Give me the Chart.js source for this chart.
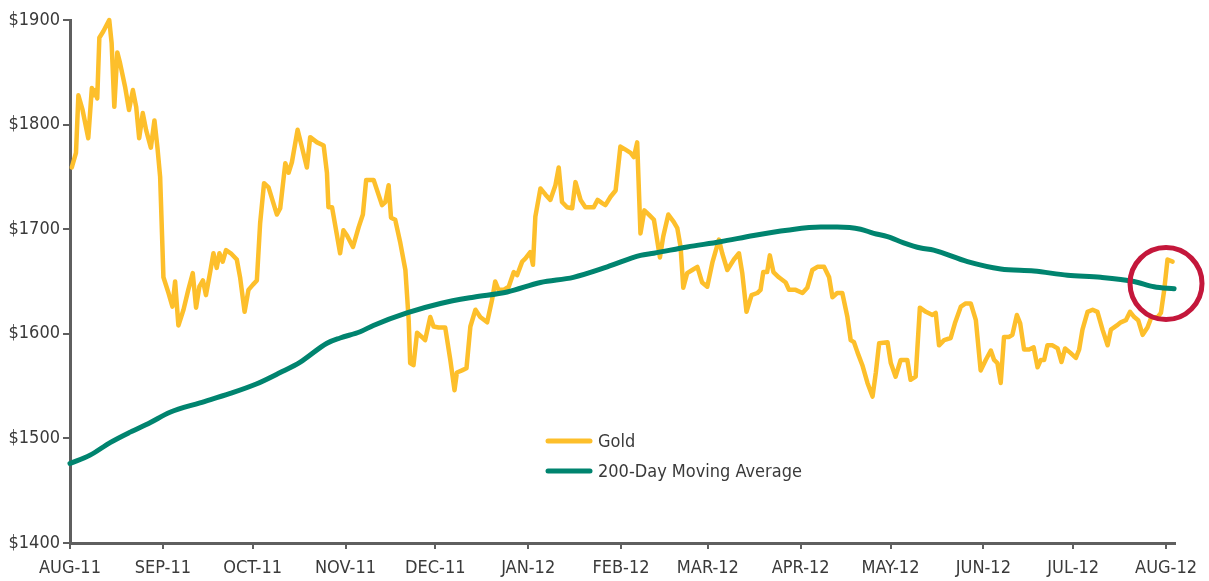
<!DOCTYPE html>
<html>
<head>
<meta charset="utf-8">
<script src="https://cdn.jsdelivr.net/npm/chart.js@4.4.1/dist/chart.umd.min.js"></script>
<style>
  html, body { margin: 0; padding: 0; background: #ffffff; }
  #wrap { width: 1209px; height: 581px; }
</style>
</head>
<body>
<div id="wrap"><canvas id="c" width="1209" height="581"></canvas></div>
<script>
// Month ticks (days since 1 Aug 2011) and labels
const monthDays = [0, 31, 61, 92, 122, 153, 184, 213, 244, 274, 305, 335, 366];
const monthLabels = ['AUG-11','SEP-11','OCT-11','NOV-11','DEC-11','JAN-12','FEB-12','MAR-12','APR-12','MAY-12','JUN-12','JUL-12','AUG-12'];
const yTicks = [1400, 1500, 1600, 1700, 1800, 1900];

// Gold price (days since 1 Aug 2011, USD)
const goldDays = [0.6,2,2.8,4.2,6.1,7.3,7.8,8.4,9.1,9.8,11.1,13.1,13.9,14.8,15.8,16.7,18.4,19.7,21,22.1,23.1,24.3,25.4,27,28.2,29.2,30.1,31.2,32.9,34.2,35.1,36.2,37.9,39.5,41,42.1,43.2,44.4,45.4,46.8,47.9,49,49.9,51,52.1,53.7,55.7,56.8,58.3,59.6,61.1,62.4,63.5,64.8,66.3,69.1,70.2,71.9,73,74.1,76,77.4,79.1,80.2,82.5,84.7,85.8,86.3,87.5,90.2,91.3,92.5,94.5,96.4,97.8,98.9,101.4,104.2,105.3,106.4,107.2,108.6,110.3,112,113.1,113.6,114.7,115.9,117.5,118.6,120.3,121.4,123.1,125.3,127,128.4,129.2,130.9,132.4,133.7,135.4,137,139.3,140.9,142,143.1,144.8,146.5,148.2,149.3,151,152.1,153.7,154.6,155.4,157.1,158.8,160.4,162.1,163.2,164.3,166,167.7,168.8,170.5,172.1,174.9,176.2,177.7,178.8,180.5,182.2,183.8,185.5,187.2,188.3,189.4,190.5,191.8,193.3,195,197,198.1,199.8,201.6,202.8,203.9,204.8,206.1,207.8,209.5,211.1,212.8,214.5,216.7,217.8,219.5,221.7,223.4,224.5,225.9,227.6,229.5,230.6,231.5,232.8,233.7,234.9,236.7,239,240.1,242.3,244.6,246.2,247.9,249.6,251.8,253.5,254.6,256.2,257.9,259.6,260.7,261.8,263,264.6,266.3,268,269.1,270.2,273,274.1,275.7,277.4,279.6,280.7,282.4,283.8,285.8,288,289.1,290.2,291.9,294.1,295.5,297.5,299.1,300.8,302.5,304.1,305.8,307.5,308.6,309.7,310.8,311.9,313.6,314.7,316.2,317.3,318.6,320.3,321.8,323.1,324.2,325.3,326.4,328.1,329.8,331.1,332.3,334,335.9,337,338.1,339.8,341.5,343.1,344.8,346.5,347.6,349.6,350.9,352.6,354,355.4,356.7,358.2,359.8,361,363.2,364.3,365.4,366.5,368.2];
const goldPrice = [1759,1773,1828,1814,1787,1835,1828,1833,1825,1883,1889,1900,1878,1817,1869,1859,1836,1814,1833,1817,1787,1811,1795,1778,1804,1778,1750,1654,1639,1626,1650,1608,1623,1642,1658,1625,1645,1651,1637,1659,1677,1663,1677,1669,1680,1677,1671,1654,1621,1642,1647,1651,1706,1744,1740,1714,1720,1763,1754,1764,1795,1779,1759,1788,1783,1780,1754,1721,1721,1677,1699,1694,1683,1702,1714,1747,1747,1723,1726,1742,1711,1709,1687,1661,1613,1572,1570,1601,1597,1594,1616,1607,1606,1606,1575,1546,1563,1565,1567,1607,1623,1616,1611,1632,1650,1642,1642,1645,1659,1656,1669,1672,1678,1666,1712,1739,1733,1728,1742,1759,1726,1721,1720,1745,1728,1721,1721,1728,1725,1723,1731,1737,1779,1776,1773,1769,1783,1696,1718,1714,1709,1673,1693,1714,1707,1701,1683,1644,1658,1661,1664,1649,1645,1668,1690,1677,1661,1671,1677,1658,1621,1637,1639,1642,1659,1659,1675,1659,1654,1649,1642,1642,1639,1644,1661,1664,1664,1654,1635,1639,1639,1616,1594,1592,1582,1570,1553,1540,1563,1591,1592,1572,1559,1575,1575,1556,1559,1625,1621,1618,1620,1589,1594,1596,1610,1626,1629,1629,1613,1565,1575,1584,1575,1572,1553,1597,1597,1599,1618,1610,1585,1585,1587,1568,1575,1575,1589,1589,1586,1573,1586,1582,1577,1585,1604,1621,1623,1621,1604,1589,1604,1608,1611,1613,1621,1616,1613,1599,1606,1615,1616,1620,1642,1671,1669];

// 200-day moving average
const maDays = [0,6.7,13.4,20.1,26.7,33.4,43.4,53.5,62.2,70.2,76.9,85.8,90.2,96.9,101.3,112.5,123.7,134.7,146,157.1,168.1,179.4,190.5,194.9,206.1,217.2,228.3,239.5,250.7,256.2,264,268.4,273,278.4,284.1,288.4,299.7,310.8,321.9,333.1,344.2,355.3,362,368.7];
const maPrice = [1476,1484,1496,1506,1515,1525,1534,1543,1552,1563,1573,1591,1596,1602,1608,1620,1629,1635,1640,1649,1654,1664,1675,1677,1683,1688,1694,1699,1702,1702,1700,1696,1693,1687,1682,1680,1669,1662,1660,1656,1654,1650,1645,1643];

// Highlight circle (crossover)
const circleDay = [366];
const circleValue = [1648];

const seriesLabels = ['Gold', '200-Day Moving Average'];
const GOLD = '#FDBF2B';
const TEAL = '#00846F';
const AXIS = '#5f5f5f';
const TEXT = '#3a3a3a';
const FONT = '"Liberation Sans Narrow", "Arial Narrow", "DejaVu Sans Condensed", Roboto, sans-serif';

const zip = (xs, ys) => xs.map((x, i) => ({ x: x, y: ys[i] }));

const legendPlugin = {
  id: 'customLegend',
  afterDraw(chart) {
    const ctx = chart.ctx;
    const items = chart.data.datasets.slice(0, 2);
    const x0 = 548, x1 = 590, tx = 598;
    const ys = [441, 471];
    ctx.save();
    items.forEach((ds, i) => {
      ctx.beginPath();
      ctx.lineCap = 'round';
      ctx.lineWidth = 5;
      ctx.strokeStyle = ds.borderColor;
      ctx.moveTo(x0, ys[i]);
      ctx.lineTo(x1, ys[i]);
      ctx.stroke();
      ctx.fillStyle = TEXT;
      ctx.font = '18px ' + FONT;
      ctx.textBaseline = 'middle';
      ctx.textAlign = 'left';
      ctx.fillText(ds.label, tx, ys[i] + 1);
    });
    ctx.restore();
  }
};

new Chart(document.getElementById('c'), {
  type: 'line',
  data: {
    datasets: [
      {
        label: seriesLabels[0],
        data: zip(goldDays, goldPrice),
        borderColor: GOLD,
        borderWidth: 4.5,
        pointRadius: 0,
        tension: 0,
        borderJoinStyle: 'round',
        borderCapStyle: 'round',
        clip: false,
        order: 2
      },
      {
        label: seriesLabels[1],
        data: zip(maDays, maPrice),
        borderColor: TEAL,
        borderWidth: 5,
        pointRadius: 0,
        cubicInterpolationMode: 'monotone',
        borderCapStyle: 'round',
        clip: false,
        order: 1
      },
      {
        label: 'highlight',
        data: zip(circleDay, circleValue),
        showLine: false,
        pointStyle: 'circle',
        pointRadius: 36,
        pointHoverRadius: 36,
        pointBorderWidth: 5,
        pointBorderColor: '#C4173B',
        pointBackgroundColor: 'rgba(0,0,0,0)',
        borderColor: '#C4173B',
        clip: false,
        order: 0
      }
    ]
  },
  options: {
    responsive: false,
    animation: false,
    devicePixelRatio: 1,
    layout: { autoPadding: false, padding: { top: 20, right: 34, left: 0, bottom: 0 } },
    plugins: {
      legend: { display: false },
      tooltip: { enabled: false },
      title: { display: false }
    },
    events: [],
    scales: {
      x: {
        type: 'linear',
        min: 0,
        max: 369,
        afterBuildTicks: (s) => { s.ticks = monthDays.map(v => ({ value: v })); },
        afterFit: (s) => { s.height = 38; s.paddingLeft = 0; s.paddingRight = 0; },
        ticks: {
          autoSkip: false,
          maxRotation: 0,
          padding: 9,
          color: TEXT,
          font: { family: FONT, size: 18 },
          callback: (v) => monthLabels[monthDays.indexOf(v)]
        },
        grid: { drawOnChartArea: false, drawTicks: true, tickLength: 6, color: AXIS, lineWidth: 2 },
        border: { display: true, color: AXIS, width: 3 }
      },
      y: {
        type: 'linear',
        min: 1400,
        max: 1900,
        afterBuildTicks: (s) => { s.ticks = yTicks.map(v => ({ value: v })); },
        afterFit: (s) => { s.width = 70; s.paddingTop = 0; s.paddingBottom = 0; },
        ticks: {
          padding: 3,
          color: TEXT,
          font: { family: FONT, size: 18 },
          callback: (v) => '$' + v
        },
        grid: { drawOnChartArea: false, drawTicks: true, tickLength: 7, color: AXIS, lineWidth: 2 },
        border: { display: true, color: AXIS, width: 3 }
      }
    }
  },
  plugins: [legendPlugin]
});
</script>
</body>
</html>
